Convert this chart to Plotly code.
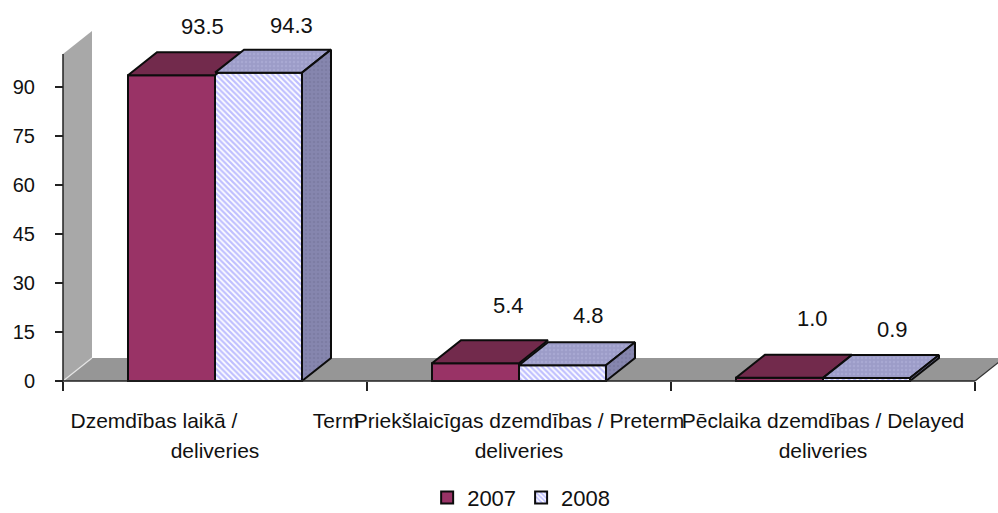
import plotly.graph_objects as go

categories = ["Dzemdības laikā /             Term<br>deliveries",
              "Priekšlaicīgas dzemdības / Preterm<br>deliveries",
              "Pēclaika dzemdības / Delayed<br>deliveries"]
series_names = ["2007", "2008"]
values_2007 = [93.5, 5.4, 1.0]
values_2008 = [94.3, 4.8, 0.9]
y_ticks = [0, 15, 30, 45, 60, 75, 90]

# calibration: pixels of the window
W, H = 998, 513
PX_CAT = 304
PX_VAL = 3.27
PX_X0 = 63      # left end of the category axis
PX_Y0 = 381     # value 0
DEPTH_PX = (29, 23)
dx = DEPTH_PX[0] / PX_CAT
dy = DEPTH_PX[1] / PX_VAL
left = -0.5
right = 2.5
x_range = [left - PX_X0 / PX_CAT, left + (W - PX_X0) / PX_CAT]
y_range = [-(H - PX_Y0) / PX_VAL, PX_Y0 / PX_VAL]
BAR_W = 87 / PX_CAT
WALL_TOP = 100

C_2007 = "#993366"
C_2007_TOP = "#722a4c"
C_2008_TOP = "#9c9cc8"
C_2008_SIDE = "#8686ae"
C_WALL = "#a8a8a8"
C_FLOOR = "#969696"
EDGE = "#0c0c0c"
FONT = "Liberation Sans, Arial, sans-serif"
TXT = "#111111"

fig = go.Figure()

fig.add_bar(x=[0, 1, 2], y=values_2007, name=series_names[0],
            marker=dict(color=C_2007, line=dict(color=EDGE, width=2)))
fig.add_bar(x=[0, 1, 2], y=values_2008, name=series_names[1],
            marker=dict(color="#ffffff", line=dict(color=EDGE, width=2),
                        pattern=dict(shape="\\", fgcolor="#8080ff", bgcolor="#ffffff",
                                     size=4, solidity=0.55)))


def face(xs, ys, color, pattern=None):
    fig.add_scatter(x=xs, y=ys, mode="lines", fill="toself", fillcolor=color,
                    fillpattern=pattern, line=dict(color=EDGE, width=2),
                    showlegend=False, hoverinfo="skip")


dots = dict(shape=".", fgcolor="#b4b4dc", bgcolor=C_2008_TOP, size=4, solidity=0.3)
dots_side = dict(shape=".", fgcolor="#73739a", bgcolor=C_2008_SIDE, size=4, solidity=0.3)

for i, v in enumerate(values_2007):
    x0, x1 = i - BAR_W, i
    face([x0, x1, x1 + dx, x0 + dx, x0], [v, v, v + dy, v + dy, v], C_2007_TOP)

for i, v in enumerate(values_2008):
    x0, x1 = i, i + BAR_W
    face([x0, x1, x1 + dx, x0 + dx, x0], [v, v, v + dy, v + dy, v], C_2008_TOP, dots)
    face([x1, x1 + dx, x1 + dx, x1, x1], [0, dy, v + dy, v, 0], C_2008_SIDE, dots_side)

# axis lines (the tick marks come from the axes)
fig.add_scatter(x=[left, left + dx], y=[0, dy], mode="lines",
                line=dict(color="#e4e4e4", width=1.2), showlegend=False, hoverinfo="skip")
fig.add_scatter(x=[left, left], y=[0, WALL_TOP], mode="lines",
                line=dict(color="#222", width=1.5), showlegend=False, hoverinfo="skip")
fig.add_scatter(x=[left, right], y=[0, 0], mode="lines",
                line=dict(color="#222", width=1.5), showlegend=False, hoverinfo="skip")
fig.add_scatter(x=[right, right + dx], y=[0, dy], mode="lines",
                line=dict(color="#333", width=1.2), showlegend=False, hoverinfo="skip")

shapes = [
    dict(type="path", layer="below", xref="x", yref="y", line=dict(width=0), fillcolor=C_WALL,
         path=f"M{left},0 L{left + dx},{dy} L{left + dx},{WALL_TOP + dy} L{left},{WALL_TOP} Z"),
    dict(type="path", layer="below", xref="x", yref="y", line=dict(width=0), fillcolor=C_FLOOR,
         path=f"M{left},0 L{right},0 L{right + dx},{dy} L{left + dx},{dy} Z"),
]

# data labels: anchored at the back-top of each bar, with a per-label pixel nudge
label_nudge_2007 = [(0, 26), (2, 35), (2, 36)]
label_nudge_2008 = [(2, 24), (-5, 27), (-5, 26)]
annotations = []
for vals, nudges, sign in ((values_2007, label_nudge_2007, -1), (values_2008, label_nudge_2008, 1)):
    for i, (v, (nx, ny)) in enumerate(zip(vals, nudges)):
        annotations.append(dict(x=i + sign * BAR_W / 2 + dx, y=v + dy, xref="x", yref="y",
                                text=f"{v:.1f}", showarrow=False, xshift=nx + 2, yshift=ny,
                                font=dict(family=FONT, size=22, color=TXT)))

fig.update_layout(
    width=W, height=H, autosize=False,
    margin=dict(l=0, r=0, t=0, b=0, autoexpand=False),
    paper_bgcolor="white", plot_bgcolor="rgba(0,0,0,0)",
    barmode="group", bargap=1 - 2 * BAR_W, bargroupgap=0,
    shapes=shapes, annotations=annotations,
    font=dict(family=FONT, size=20, color=TXT),
    hovermode=False,
    legend=dict(orientation="h", x=0.428, y=-0.011, xanchor="left", yanchor="bottom",
                font=dict(family=FONT, size=22, color=TXT), bgcolor="rgba(0,0,0,0)",
                itemwidth=30, traceorder="normal"),
    xaxis=dict(range=x_range, domain=[0, 1], anchor="free", position=(H - PX_Y0) / H,
               showgrid=False, zeroline=False, showline=False,
               tickmode="array", tickvals=[0, 1, 2],
               ticktext=[f'<span style="font-size:21px">{c.split("<br>")[0]}</span><br>'
                         f'<span style="font-size:21px">{c.split("<br>")[1]}</span>' for c in categories],
               ticks="", ticklabelstandoff=23, tickangle=0,
               tickfont=dict(family=FONT, size=23, color=TXT),
               minor=dict(tickmode="array", tickvals=[-0.5, 0.5, 1.5, 2.5], ticks="outside",
                          ticklen=9, tickwidth=1.5, tickcolor="#222", showgrid=False)),
    yaxis=dict(range=y_range, domain=[0, 1], anchor="free", position=PX_X0 / W,
               showgrid=False, zeroline=False, showline=False,
               tickmode="array", tickvals=y_ticks, ticks="outside", ticklen=8,
               tickwidth=1.5, tickcolor="#222", ticklabelstandoff=16,
               tickfont=dict(family=FONT, size=20, color=TXT)),
)

fig.write_html("out.html", post_script="document.body.style.margin='0';",
               config=dict(displayModeBar=False))
